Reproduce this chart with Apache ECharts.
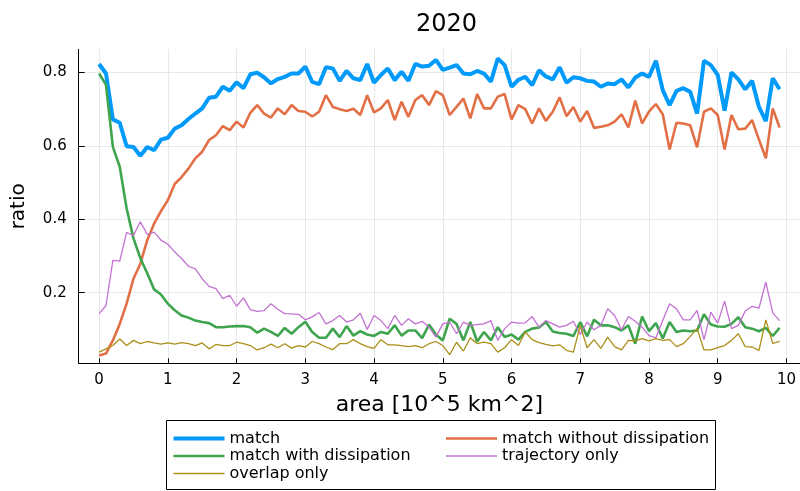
<!DOCTYPE html>
<html>
<head>
<meta charset="utf-8">
<title>2020</title>
<script src="https://cdn.jsdelivr.net/npm/echarts@6/dist/echarts.min.js"></script>
<style>
  html, body { margin: 0; padding: 0; background: #fff; }
  #chart { width: 800px; height: 491px; }
</style>
</head>
<body>
<div id="chart"></div>
<script>
// area bins [10^5 km^2]
const area = [
  0.0, 0.1, 0.2, 0.3, 0.4, 0.5, 0.6, 0.7, 0.8, 0.9,
  1.0, 1.1, 1.2, 1.3, 1.4, 1.5, 1.6, 1.7, 1.8, 1.9,
  2.0, 2.1, 2.2, 2.3, 2.4, 2.5, 2.6, 2.7, 2.8, 2.9,
  3.0, 3.1, 3.2, 3.3, 3.4, 3.5, 3.6, 3.7, 3.8, 3.9,
  4.0, 4.1, 4.2, 4.3, 4.4, 4.5, 4.6, 4.7, 4.8, 4.9,
  5.0, 5.1, 5.2, 5.3, 5.4, 5.5, 5.6, 5.7, 5.8, 5.9,
  6.0, 6.1, 6.2, 6.3, 6.4, 6.5, 6.6, 6.7, 6.8, 6.9,
  7.0, 7.1, 7.2, 7.3, 7.4, 7.5, 7.6, 7.7, 7.8, 7.9,
  8.0, 8.1, 8.2, 8.3, 8.4, 8.5, 8.6, 8.7, 8.8, 8.9,
  9.0, 9.1, 9.2, 9.3, 9.4, 9.5, 9.6, 9.7, 9.8, 9.9
];

const match = [
  0.823, 0.797, 0.672, 0.663, 0.599, 0.597, 0.573, 0.597, 0.588, 0.617,
  0.622, 0.647, 0.656, 0.673, 0.688, 0.702, 0.731, 0.734, 0.761, 0.750,
  0.773, 0.757, 0.795, 0.799, 0.787, 0.770, 0.782, 0.788, 0.797, 0.797,
  0.816, 0.774, 0.768, 0.814, 0.811, 0.777, 0.804, 0.784, 0.779, 0.823,
  0.772, 0.793, 0.811, 0.779, 0.802, 0.777, 0.823, 0.816, 0.818, 0.834,
  0.807, 0.813, 0.820, 0.797, 0.795, 0.804, 0.797, 0.775, 0.838, 0.820,
  0.761, 0.780, 0.788, 0.765, 0.806, 0.789, 0.781, 0.814, 0.772, 0.787,
  0.784, 0.777, 0.775, 0.761, 0.770, 0.768, 0.781, 0.759, 0.786, 0.797,
  0.788, 0.832, 0.752, 0.711, 0.750, 0.757, 0.747, 0.688, 0.832, 0.820,
  0.793, 0.696, 0.800, 0.781, 0.754, 0.777, 0.706, 0.667, 0.784, 0.754
];

const matchWithoutDissipation = [
  0.029, 0.034, 0.070, 0.115, 0.170, 0.238, 0.279, 0.343, 0.388, 0.422,
  0.452, 0.496, 0.515, 0.538, 0.566, 0.584, 0.616, 0.629, 0.654, 0.643,
  0.666, 0.650, 0.690, 0.711, 0.688, 0.677, 0.702, 0.686, 0.711, 0.695,
  0.693, 0.680, 0.693, 0.738, 0.706, 0.700, 0.695, 0.701, 0.684, 0.738,
  0.691, 0.702, 0.725, 0.670, 0.720, 0.679, 0.725, 0.738, 0.711, 0.749,
  0.738, 0.684, 0.706, 0.729, 0.675, 0.741, 0.702, 0.702, 0.734, 0.741,
  0.672, 0.711, 0.700, 0.661, 0.702, 0.668, 0.693, 0.732, 0.681, 0.706,
  0.666, 0.695, 0.649, 0.652, 0.656, 0.666, 0.686, 0.650, 0.723, 0.661,
  0.693, 0.714, 0.686, 0.590, 0.663, 0.661, 0.656, 0.596, 0.693, 0.702,
  0.684, 0.590, 0.684, 0.645, 0.647, 0.670, 0.617, 0.566, 0.702, 0.650
];

const matchWithDissipation = [
  0.797, 0.766, 0.597, 0.543, 0.430, 0.348, 0.294, 0.253, 0.209, 0.195,
  0.170, 0.152, 0.138, 0.132, 0.124, 0.120, 0.117, 0.106, 0.106, 0.108,
  0.109, 0.109, 0.106, 0.091, 0.102, 0.093, 0.082, 0.104, 0.088, 0.106,
  0.121, 0.093, 0.077, 0.077, 0.102, 0.079, 0.109, 0.083, 0.095, 0.086,
  0.082, 0.093, 0.088, 0.111, 0.083, 0.097, 0.097, 0.076, 0.113, 0.086,
  0.070, 0.129, 0.115, 0.070, 0.120, 0.067, 0.093, 0.070, 0.106, 0.079,
  0.086, 0.072, 0.093, 0.102, 0.105, 0.120, 0.094, 0.090, 0.088, 0.082,
  0.120, 0.081, 0.126, 0.111, 0.111, 0.106, 0.097, 0.111, 0.061, 0.135,
  0.095, 0.117, 0.075, 0.120, 0.093, 0.097, 0.095, 0.097, 0.141, 0.113,
  0.108, 0.107, 0.115, 0.133, 0.106, 0.102, 0.095, 0.104, 0.082, 0.104
];

const trajectoryOnly = [
  0.143, 0.165, 0.288, 0.286, 0.364, 0.356, 0.393, 0.359, 0.365, 0.343,
  0.332, 0.311, 0.293, 0.272, 0.265, 0.238, 0.217, 0.211, 0.184, 0.193,
  0.163, 0.186, 0.154, 0.149, 0.151, 0.170, 0.155, 0.143, 0.142, 0.141,
  0.126, 0.134, 0.146, 0.115, 0.124, 0.138, 0.120, 0.126, 0.144, 0.100,
  0.138, 0.124, 0.102, 0.138, 0.111, 0.129, 0.115, 0.122, 0.106, 0.079,
  0.115, 0.120, 0.088, 0.120, 0.111, 0.113, 0.115, 0.124, 0.070, 0.102,
  0.120, 0.117, 0.118, 0.135, 0.106, 0.124, 0.115, 0.106, 0.111, 0.122,
  0.086, 0.120, 0.099, 0.111, 0.156, 0.138, 0.099, 0.135, 0.122, 0.106,
  0.083, 0.077, 0.124, 0.170, 0.156, 0.126, 0.126, 0.152, 0.072, 0.147,
  0.117, 0.177, 0.102, 0.111, 0.150, 0.163, 0.158, 0.229, 0.145, 0.124
];

const overlapOnly = [
  0.038, 0.047, 0.056, 0.074, 0.056, 0.070, 0.061, 0.067, 0.063, 0.060,
  0.063, 0.060, 0.064, 0.061, 0.056, 0.063, 0.047, 0.059, 0.056, 0.056,
  0.065, 0.061, 0.056, 0.044, 0.050, 0.060, 0.050, 0.061, 0.049, 0.056,
  0.052, 0.067, 0.061, 0.052, 0.045, 0.061, 0.061, 0.072, 0.061, 0.053,
  0.048, 0.072, 0.058, 0.058, 0.056, 0.053, 0.056, 0.050, 0.061, 0.067,
  0.056, 0.031, 0.065, 0.041, 0.077, 0.061, 0.065, 0.061, 0.038, 0.050,
  0.072, 0.056, 0.093, 0.072, 0.064, 0.059, 0.055, 0.058, 0.043, 0.038,
  0.110, 0.050, 0.072, 0.048, 0.079, 0.053, 0.044, 0.070, 0.069, 0.075,
  0.069, 0.075, 0.070, 0.072, 0.053, 0.061, 0.081, 0.102, 0.044, 0.044,
  0.050, 0.056, 0.070, 0.088, 0.053, 0.052, 0.043, 0.126, 0.062, 0.067
];

const xTicks = [0, 1, 2, 3, 4, 5, 6, 7, 8, 9, 10];
const yTicks = [0.2, 0.4, 0.6, 0.8];

const FONT = 'DejaVu Sans';

// series styling: colour and stroke width
const STYLE = {
  'match': { color: '#009AFA', width: 4 },
  'match without dissipation': { color: '#E26F46', width: 2.6 },
  'match with dissipation': { color: '#3EA44E', width: 2.6 },
  'trajectory only': { color: '#C271D2', width: 1.3 },
  'overlap only': { color: '#AC8E18', width: 1.3 }
};

function pairs(ys) {
  return area.map((x, i) => [x, ys[i]]);
}

function lineSeries(name, ys) {
  const s = STYLE[name];
  return {
    name: name,
    type: 'line',
    data: pairs(ys),
    symbol: 'none',
    showSymbol: false,
    animation: false,
    lineStyle: { color: s.color, width: s.width },
    itemStyle: { color: s.color },
    emphasis: { disabled: true }
  };
}

// legend sample: a flat bar as thick as the series stroke
function legendItem(name) {
  const w = STYLE[name].width;
  return {
    name: name,
    icon: 'path://M0,0H51V' + w + 'H0Z',
    itemStyle: { color: STYLE[name].color }
  };
}

function legendColumn(left, names) {
  return {
    orient: 'vertical',
    left: left,
    top: 430.5,
    padding: 0,
    height: 60,
    itemWidth: 51,
    itemHeight: 14,
    itemGap: 1.5,
    symbolKeepAspect: true,
    selectedMode: false,
    textStyle: { fontFamily: FONT, fontSize: 16, lineHeight: 14, color: '#000' },
    data: names.map(legendItem)
  };
}

const chart = echarts.init(document.getElementById('chart'), null, { renderer: 'canvas' });

const gridLeft = 78.7, gridTop = 49.3, gridW = 725.6, gridH = 314;

chart.setOption({
  backgroundColor: '#ffffff',
  animation: false,
  title: {
    text: '2020',
    left: gridLeft + gridW / 2,
    textAlign: 'center',
    top: 8,
    textStyle: { fontFamily: FONT, fontSize: 24, fontWeight: 'normal', color: '#000' }
  },
  grid: { left: gridLeft, top: gridTop, width: gridW, height: gridH, containLabel: false },
  xAxis: {
    type: 'value',
    min: -0.297,
    max: 10.197,
    name: 'area [10^5 km^2]',
    nameLocation: 'middle',
    nameGap: 31,
    nameTextStyle: { fontFamily: FONT, fontSize: 22, color: '#000' },
    axisLine: { show: true, onZero: false, lineStyle: { color: '#000', width: 1 } },
    axisTick: { show: true, inside: true, length: 5, customValues: xTicks, lineStyle: { color: '#000' } },
    axisLabel: {
      customValues: xTicks,
      margin: 9,
      fontFamily: FONT, fontSize: 15, color: '#000',
      formatter: v => String(v)
    },
    splitLine: { show: true, lineStyle: { color: '#e8e8e8', width: 1 } }
  },
  yAxis: {
    type: 'value',
    min: 0.0076,
    max: 0.863,
    name: 'ratio',
    nameLocation: 'middle',
    nameGap: 50,
    nameRotate: 90,
    nameTextStyle: { fontFamily: FONT, fontSize: 20, color: '#000' },
    axisLine: { show: true, onZero: false, lineStyle: { color: '#000', width: 1 } },
    axisTick: { show: true, inside: true, length: 6, customValues: yTicks, lineStyle: { color: '#000' } },
    axisLabel: {
      customValues: yTicks,
      margin: 12,
      fontFamily: FONT, fontSize: 15, color: '#000',
      formatter: v => v.toFixed(1)
    },
    splitLine: { show: true, lineStyle: { color: '#e8e8e8', width: 1 } }
  },
  legend: [
    legendColumn(173.5, ['match', 'match with dissipation', 'overlap only']),
    legendColumn(446, ['match without dissipation', 'trajectory only'])
  ],
  graphic: [
    {
      type: 'rect',
      silent: true,
      shape: { x: 166.5, y: 420.5, width: 549, height: 69 },
      style: { fill: 'none', stroke: '#000', lineWidth: 1 }
    }
  ],
  series: [
    lineSeries('match', match),
    lineSeries('match without dissipation', matchWithoutDissipation),
    lineSeries('match with dissipation', matchWithDissipation),
    lineSeries('trajectory only', trajectoryOnly),
    lineSeries('overlap only', overlapOnly)
  ]
});
</script>
</body>
</html>
